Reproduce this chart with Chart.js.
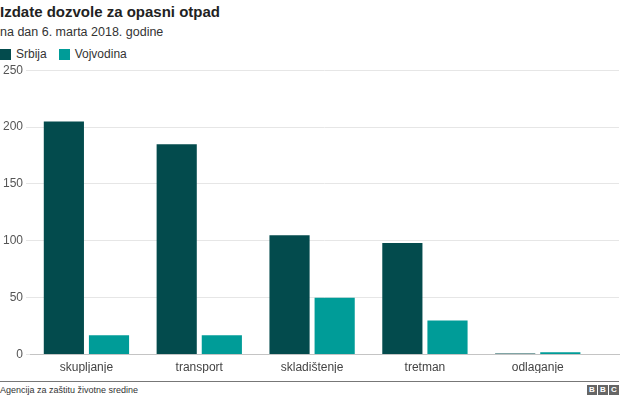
<!DOCTYPE html>
<html>
<head>
<meta charset="utf-8">
<script src="https://cdn.jsdelivr.net/npm/chart.js@4"></script>
<style>
  body { margin: 0; background: #fff; font-family: "Liberation Sans", Arial, sans-serif; }
  #wrap { position: relative; width: 640px; height: 398px; overflow: hidden; }
  #title { position: absolute; left: 0; top: 3px; font-size: 15px; font-weight: bold; color: #222; }
  #sub { position: absolute; left: 0; top: 25px; font-size: 12.5px; color: #333; }
  #legend { position: absolute; left: 0; top: 47px; font-size: 12px; color: #333; display: flex; }
  #legend span.item { display: flex; align-items: center; margin-right: 12px; }
  #legend span.box { width: 11px; height: 11px; margin-right: 5px; display: inline-block; }
  #box { position: absolute; left: 0; top: 60px; width: 620px; height: 313px; }
  #rule { position: absolute; left: 0; top: 381px; width: 619px; height: 1px; background: #777; }
  #src { position: absolute; left: 0; top: 385px; font-size: 9px; color: #333; }
  #bbc { position: absolute; left: 586px; top: 385px; display: flex; }
  #bbc span { width: 10px; height: 10px; background: #666; color: #fff; font-size: 8px; font-weight: bold; text-align: center; line-height: 10px; margin-left: 1px; }
</style>
</head>
<body>
<div id="wrap">
  <div id="title">Izdate dozvole za opasni otpad</div>
  <div id="sub">na dan 6. marta 2018. godine</div>
  <div id="legend"></div>
  <div id="box"><canvas id="myChart"></canvas></div>
  <div id="rule"></div>
  <div id="src">Agencija za zaštitu životne sredine</div>
  <div id="bbc"><span>B</span><span>B</span><span>C</span></div>
</div>
<script>
// podaci
const categories = ['skupljanje', 'transport', 'skladištenje', 'tretman', 'odlaganje'];
const seriesNames = ['Srbija', 'Vojvodina'];
const srbija = [205, 185, 105, 98, 1];
const vojvodina = [17, 17, 50, 30, 2];
const yTicks = [0, 50, 100, 150, 200, 250];
const colors = ['#034b4d', '#009c98'];

// legenda
const leg = document.getElementById('legend');
seriesNames.forEach((name, i) => {
  const it = document.createElement('span');
  it.className = 'item';
  it.innerHTML = '<span class="box" style="background:' + colors[i] + '"></span>' + name;
  leg.appendChild(it);
});

const ctx = document.getElementById('myChart').getContext('2d');
const myChart = new Chart(ctx, {
  type: 'bar',
  data: {
    labels: categories,
    datasets: [
      { label: seriesNames[0], data: srbija, backgroundColor: colors[0], categoryPercentage: 0.8, barPercentage: 0.89 },
      { label: seriesNames[1], data: vojvodina, backgroundColor: colors[1], categoryPercentage: 0.8, barPercentage: 0.89 }
    ]
  },
  options: {
    responsive: true,
    maintainAspectRatio: false,
    animation: false,
    layout: { padding: { top: 7, right: 1, left: 0, bottom: 0 } },
    plugins: { legend: { display: false }, tooltip: { enabled: false } },
    scales: {
      x: {
        // prazan prostor desno od poslednje kategorije, kao u originalu
        afterBuildTicks: axis => { axis._valueRange = categories.length + 0.22; },
        grid: { display: false },
        border: { color: '#c4c4c4' },
        ticks: { color: '#444', font: { family: 'Liberation Sans', size: 12 }, padding: -2 }
      },
      y: {
        min: 0,
        max: 250,
        afterBuildTicks: axis => { axis.ticks = yTicks.map(v => ({ value: v })); },
        grid: { color: '#e6e6e6', tickLength: 4 },
        border: { display: false },
        ticks: { color: '#555', font: { family: 'Liberation Sans', size: 12 }, padding: 3 }
      }
    }
  }
});
</script>
</body>
</html>
